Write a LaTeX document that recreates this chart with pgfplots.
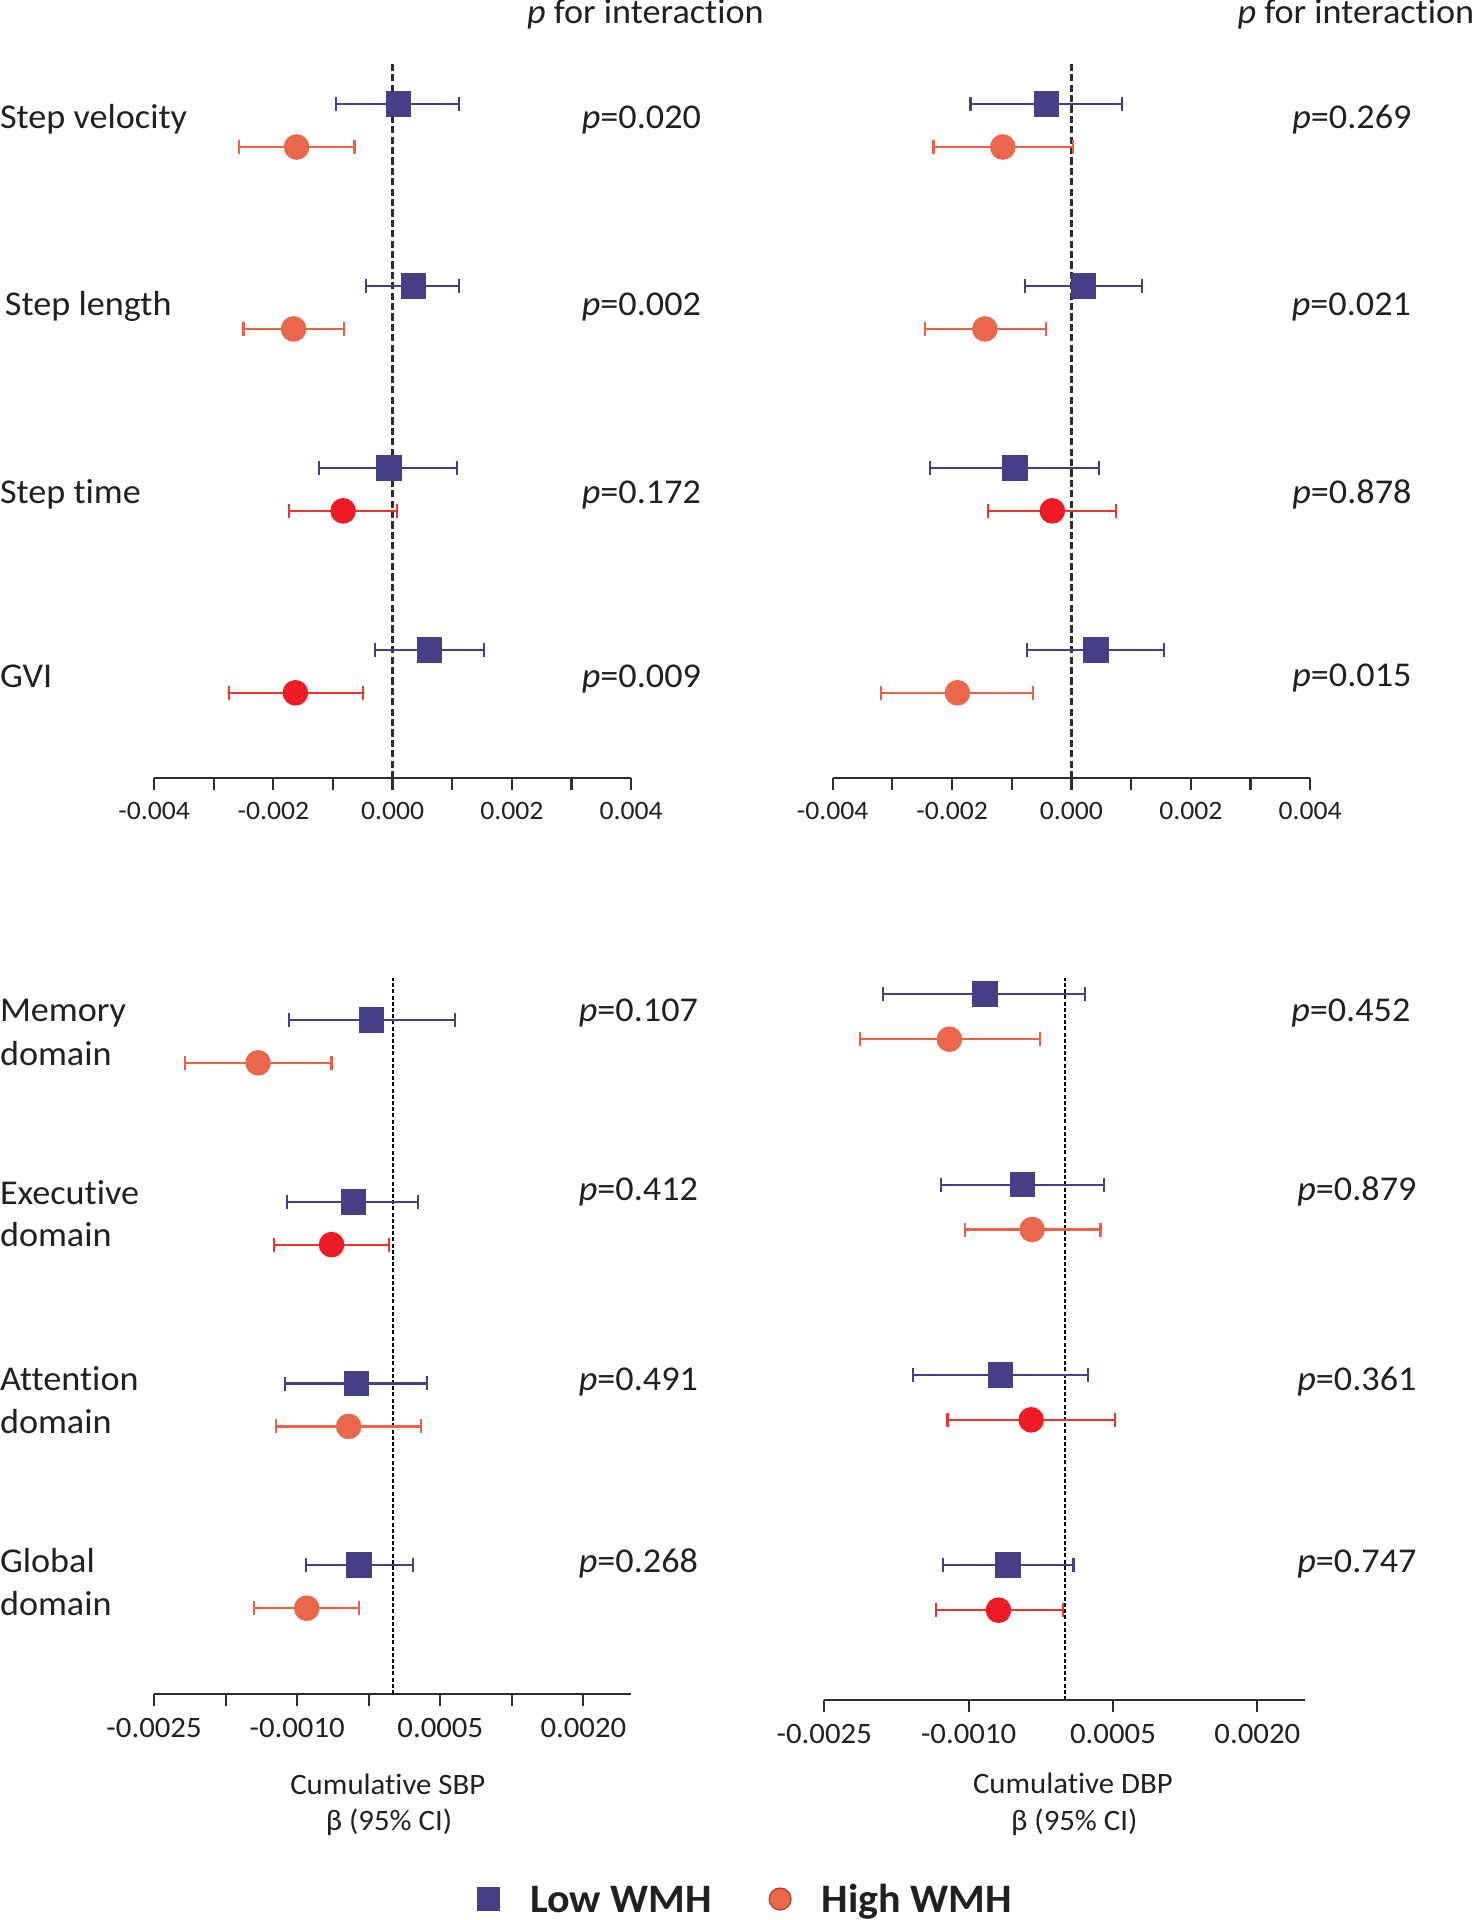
\documentclass[border=0pt]{standalone}
\usepackage{pgfplots}
\pgfplotsset{compat=1.18}
\usepackage{pgfplotstable}
\usepackage{fontspec}
\setmainfont{Carlito}[FakeStretch=1.04, Ligatures=NoCommon]
\definecolor{navy}{RGB}{69,63,134}
\definecolor{hiorange}{RGB}{233,103,74}
\definecolor{hired}{RGB}{237,28,36}
\definecolor{barorange}{RGB}{236,96,70}
\definecolor{barred}{RGB}{238,52,42}
\definecolor{txt}{RGB}{35,31,32}
\definecolor{axisgray}{RGB}{45,45,45}

% columns: y position (row +/- offset), beta, lower CI, upper CI
\pgfplotstableread{
y b lo hi
4.118 0.00010 -0.00095 0.00112
3.118 0.00035 -0.00045 0.00112
2.118 -0.00006 -0.00124 0.00108
1.118 0.00062 -0.00029 0.00154
}\tlLow
\pgfplotstableread{
y b lo hi
3.882 -0.00161 -0.00257 -0.00064
2.882 -0.00166 -0.00250 -0.00081
}\tlHighO
\pgfplotstableread{
y b lo hi
1.882 -0.00083 -0.00174 0.00008
0.882 -0.00163 -0.00274 -0.00050
}\tlHighR

\pgfplotstableread{
y b lo hi
4.118 -0.00042 -0.00169 0.00085
3.118 0.00020 -0.00078 0.00118
2.118 -0.00095 -0.00237 0.00046
1.118 0.00041 -0.00074 0.00155
}\trLow
\pgfplotstableread{
y b lo hi
3.882 -0.00115 -0.00231 0.00002
2.882 -0.00145 -0.00246 -0.00043
0.882 -0.00191 -0.00319 -0.00064
}\trHighO
\pgfplotstableread{
y b lo hi
1.882 -0.00032 -0.00140 0.00075
}\trHighR

\pgfplotstableread{
y b lo hi
4.118 -0.00022 -0.00109 0.00065
3.118 -0.00041 -0.00111 0.00027
2.118 -0.00038 -0.00113 0.00036
1.118 -0.00035 -0.00091 0.00021
}\blLow
\pgfplotstableread{
y b lo hi
3.882 -0.00141 -0.00218 -0.00064
1.882 -0.00046 -0.00122 0.00030
0.882 -0.00090 -0.00145 -0.00035
}\blHighO
\pgfplotstableread{
y b lo hi
2.882 -0.00064 -0.00124 -0.00004
}\blHighR

\pgfplotstableread{
y b lo hi
4.118 -0.00083 -0.00189 0.00021
3.118 -0.00044 -0.00129 0.00041
2.118 -0.00067 -0.00158 0.00024
1.118 -0.00059 -0.00127 0.00009
}\brLow
\pgfplotstableread{
y b lo hi
3.882 -0.00120 -0.00213 -0.00026
2.882 -0.00034 -0.00104 0.00037
}\brHighO
\pgfplotstableread{
y b lo hi
1.882 -0.00035 -0.00122 0.00052
0.882 -0.00069 -0.00134 -0.00002
}\brHighR

\pgfkeys{/pgfplots/table/civals/.style={x=b, y=y,
    x error plus expr=\thisrow{hi}-\thisrow{b},
    x error minus expr=\thisrow{b}-\thisrow{lo}}}

\pgfplotsset{
  forest/.style={
    scale only axis, axis x line=bottom, axis y line=none,
    axis line style={axisgray, line width=0.55pt, -},
    ytick=\empty, scaled x ticks=false,
    tick align=outside, major tick length=2.9pt,
    every tick/.style={axisgray, line width=0.55pt},
    clip=false,
    xticklabel style={text=txt, inner sep=0pt, yshift=-3pt},
  },
  lowpt/.style={only marks, mark=square*, mark size=3.05pt,
    mark options={fill=navy, draw=navy, line width=0.3pt},
    error bars/.cd, x dir=both, x explicit, error mark=|,
    error bar style={navy, line width=0.55pt},
    error mark options={navy, mark size=1.75pt, line width=0.55pt}},
  highO/.style={only marks, mark=*, mark size=3.05pt,
    mark options={fill=hiorange, draw=hiorange, line width=0.3pt},
    error bars/.cd, x dir=both, x explicit, error mark=|,
    error bar style={barorange, line width=0.55pt},
    error mark options={barorange, mark size=1.75pt, line width=0.55pt}},
  highR/.style={only marks, mark=*, mark size=3.05pt,
    mark options={fill=hired, draw=hired, line width=0.3pt},
    error bars/.cd, x dir=both, x explicit, error mark=|,
    error bar style={barred, line width=0.55pt},
    error mark options={barred, mark size=1.75pt, line width=0.55pt}},
}

\newcommand\lbl{\fontsize{8.7}{10}\selectfont}
\newcommand\ttl{\fontsize{7.4}{9}\selectfont}

\begin{document}
\begin{tikzpicture}
% ---------- overlay axis: text and legend, pixel coordinates ----------
\begin{axis}[at={(0pt,0pt)}, anchor=south west, scale only axis,
  width=368.5pt, height=480pt, xmin=0, xmax=1474, ymin=0, ymax=1920,
  y dir=reverse, hide axis, clip=false,
  legend columns=2,
  legend style={at={(axis cs:477.4,1899)}, anchor=west, draw=none, fill=none,
    inner sep=0pt, outer sep=0pt, column sep=7.7pt,
    /tikz/every even column/.append style={column sep=14.3pt},
    nodes={inner sep=0pt, anchor=west, text height=6.5pt, text depth=0pt,
      font=\fontsize{10.1}{11}\selectfont\bfseries, text=txt}},
  legend image code/.code={\draw[#1] plot coordinates {(0pt,0pt)};},
]
\addlegendimage{only marks, mark=square*, mark size=2.75pt, mark options={fill=navy, draw=navy}}
\addlegendentry{Low WMH}
\addlegendimage{only marks, mark=*, mark size=2.75pt, mark options={fill=hiorange, draw=hiorange!70!black, line width=0.3pt}}
\addlegendentry{High WMH}

\begin{scope}[every node/.style={inner sep=0pt, outer sep=0pt, text=txt, font=\lbl}]
% headers
\node[anchor=base west] at (axis cs:527,23.3) {\textit{p} for interaction};
\node[anchor=base west] at (axis cs:1237.5,23.3) {\textit{p} for interaction};
% row labels, gait
\node[anchor=base west] at (axis cs:0,128.3) {Step velocity};
\node[anchor=base west] at (axis cs:5,315) {Step length};
\node[anchor=base west] at (axis cs:0,503.3) {Step time};
\node[anchor=base west] at (axis cs:0,687.3) {GVI};
% row labels, cognition
\node[anchor=base west] at (axis cs:0,1021.7) {Memory};
\node[anchor=base west] at (axis cs:0,1065) {domain};
\node[anchor=base west] at (axis cs:0,1204.3) {Executive};
\node[anchor=base west] at (axis cs:0,1246) {domain};
\node[anchor=base west] at (axis cs:0,1390.7) {Attention};
\node[anchor=base west] at (axis cs:0,1433.3) {domain};
\node[anchor=base west] at (axis cs:0,1572.7) {Global};
\node[anchor=base west] at (axis cs:0,1615.7) {domain};
% p values
\node[anchor=base east] at (axis cs:701,128.3) {\textit{p}=0.020};
\node[anchor=base east] at (axis cs:701,315) {\textit{p}=0.002};
\node[anchor=base east] at (axis cs:701,503.3) {\textit{p}=0.172};
\node[anchor=base east] at (axis cs:701,687.3) {\textit{p}=0.009};
\node[anchor=base east] at (axis cs:1411.5,128.3) {\textit{p}=0.269};
\node[anchor=base east] at (axis cs:1411,315) {\textit{p}=0.021};
\node[anchor=base east] at (axis cs:1411.5,503.3) {\textit{p}=0.878};
\node[anchor=base east] at (axis cs:1411.5,686.7) {\textit{p}=0.015};
\node[anchor=base east] at (axis cs:698,1021.7) {\textit{p}=0.107};
\node[anchor=base east] at (axis cs:698,1200) {\textit{p}=0.412};
\node[anchor=base east] at (axis cs:698,1390.7) {\textit{p}=0.491};
\node[anchor=base east] at (axis cs:698,1572.7) {\textit{p}=0.268};
\node[anchor=base east] at (axis cs:1410.4,1021.7) {\textit{p}=0.452};
\node[anchor=base east] at (axis cs:1416.5,1200) {\textit{p}=0.879};
\node[anchor=base east] at (axis cs:1416.5,1390.7) {\textit{p}=0.361};
\node[anchor=base east] at (axis cs:1416.5,1572.7) {\textit{p}=0.747};
% axis titles
\node[anchor=base, font=\ttl] at (axis cs:387.8,1794) {Cumulative SBP};
\node[anchor=base, font=\ttl] at (axis cs:389,1830.7) {β (95\% CI)};
\node[anchor=base, font=\ttl] at (axis cs:1072.9,1793.3) {Cumulative DBP};
\node[anchor=base, font=\ttl] at (axis cs:1074.3,1830.7) {β (95\% CI)};
\end{scope}
\end{axis}

% ---------- top left: SBP, gait ----------
\begin{axis}[forest, at={(38.525pt,285.425pt)}, anchor=south west,
  width=119.25pt, height=179.15pt,
  xmin=-0.004, xmax=0.004, ymin=0.412, ymax=4.351,
  xtick={-0.004,-0.003,-0.002,-0.001,0,0.001,0.002,0.003,0.004},
  xticklabels={-0.004,,-0.002,,0.000,,0.002,,0.004},
  xticklabel style={font=\fontsize{6.65}{7}\selectfont}]
\addplot[axisgray, line width=0.55pt, dash pattern=on 1.8pt off 0.8pt] coordinates {(0,0.412) (0,4.351)};
\addplot[lowpt] table[civals] {\tlLow};
\addplot[highO] table[civals] {\tlHighO};
\addplot[highR] table[civals] {\tlHighR};
\end{axis}

% ---------- top right: DBP, gait ----------
\begin{axis}[forest, at={(208.175pt,285.425pt)}, anchor=south west,
  width=119.375pt, height=179.15pt,
  xmin=-0.004, xmax=0.004, ymin=0.412, ymax=4.351,
  xtick={-0.004,-0.003,-0.002,-0.001,0,0.001,0.002,0.003,0.004},
  xticklabels={-0.004,,-0.002,,0.000,,0.002,,0.004},
  xticklabel style={font=\fontsize{6.65}{7}\selectfont}]
\addplot[axisgray, line width=0.55pt, dash pattern=on 1.8pt off 0.8pt] coordinates {(0,0.412) (0,4.351)};
\addplot[lowpt] table[civals] {\trLow};
\addplot[highO] table[civals] {\trHighO};
\addplot[highR] table[civals] {\trHighR};
\end{axis}

% ---------- bottom left: SBP, cognition ----------
\begin{axis}[forest, at={(38.525pt,56.5pt)}, anchor=south west,
  width=119.25pt, height=178.925pt,
  xmin=-0.0025, xmax=0.0025, ymin=0.410, ymax=4.347,
  xtick={-0.0025,-0.00175,-0.001,-0.00025,0.0005,0.00125,0.002},
  xticklabels={-0.0025,,-0.0010,,0.0005,,0.0020},
  xticklabel style={font=\fontsize{7.4}{8}\selectfont}]
\addplot[black, line width=0.5pt, dash pattern=on 1pt off 0.55pt] coordinates {(0,0.410) (0,4.347)};
\addplot[lowpt] table[civals] {\blLow};
\addplot[highO] table[civals] {\blHighO};
\addplot[highR] table[civals] {\blHighR};
\end{axis}

% ---------- bottom right: DBP, cognition ----------
\begin{axis}[forest, at={(206.075pt,55pt)}, anchor=south west,
  width=120.3pt, height=180.425pt,
  xmin=-0.0025, xmax=0.0025, ymin=0.410, ymax=4.202,
  xtick={-0.0025,-0.001,0.0005,0.002},
  xticklabels={-0.0025,-0.0010,0.0005,0.0020},
  xticklabel style={font=\fontsize{7.4}{8}\selectfont}]
\addplot[black, line width=0.5pt, dash pattern=on 1pt off 0.55pt] coordinates {(0,0.410) (0,4.202)};
\addplot[lowpt] table[civals] {\brLow};
\addplot[highO] table[civals] {\brHighO};
\addplot[highR] table[civals] {\brHighR};
\end{axis}

\pgfresetboundingbox
\useasboundingbox (0pt,0pt) rectangle (368.5pt,480pt);
\end{tikzpicture}
\end{document}
